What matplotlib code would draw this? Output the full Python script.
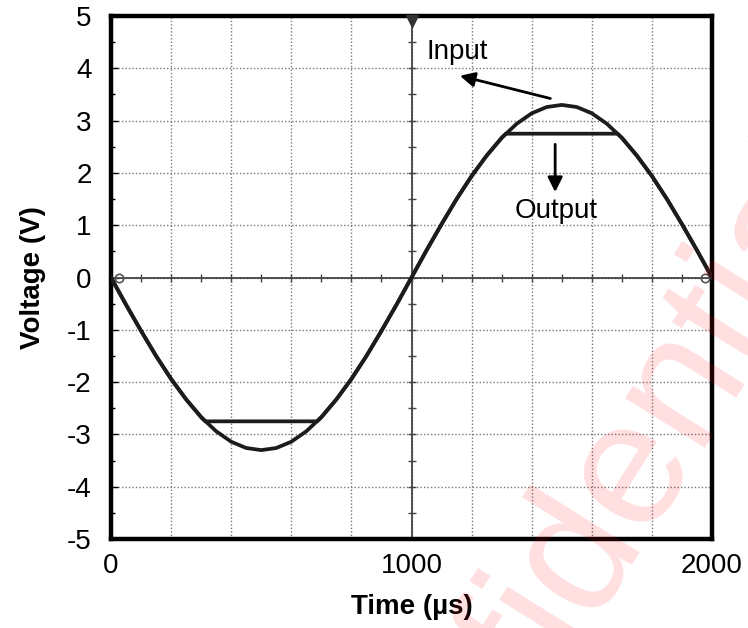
import matplotlib
matplotlib.use("Agg")
import matplotlib.pyplot as plt
import numpy as np

plt.rcParams['font.family'] = ['Liberation Sans', 'DejaVu Sans']

# input sine (time in us, volts)
t_in = [0, 50, 100, 150, 200, 250, 300, 350, 400, 450, 500, 550, 600, 650, 700,
        750, 800, 850, 900, 950, 1000, 1050, 1100, 1150, 1200, 1250, 1300, 1350,
        1400, 1450, 1500, 1550, 1600, 1650, 1700, 1750, 1800, 1850, 1900, 1950, 2000]
v_in = [0, -0.52, -1.02, -1.50, -1.94, -2.33, -2.67, -2.94, -3.14, -3.26, -3.30,
        -3.26, -3.14, -2.94, -2.67, -2.33, -1.94, -1.50, -1.02, -0.52, 0,
        0.52, 1.02, 1.50, 1.94, 2.33, 2.67, 2.94, 3.14, 3.26, 3.30,
        3.26, 3.14, 2.94, 2.67, 2.33, 1.94, 1.50, 1.02, 0.52, 0]

# clipped output trace
t_out = [0, 50, 100, 150, 200, 250, 300, 314, 686, 700, 750, 800, 850, 900, 950,
         1000, 1050, 1100, 1150, 1200, 1250, 1300, 1314, 1686, 1700, 1750, 1800,
         1850, 1900, 1950, 2000]
v_out = [0, -0.52, -1.02, -1.50, -1.94, -2.33, -2.67, -2.75, -2.75, -2.67, -2.33,
         -1.94, -1.50, -1.02, -0.52, 0, 0.52, 1.02, 1.50, 1.94, 2.33, 2.67,
         2.75, 2.75, 2.67, 2.33, 1.94, 1.50, 1.02, 0.52, 0]

x_labels = ['0', '1000', '2000']
y_ticks = [-5, -4, -3, -2, -1, 0, 1, 2, 3, 4, 5]

fig = plt.figure(figsize=(7.48, 6.28), dpi=100)
ax = fig.add_axes([0.1484, 0.1417, 0.8035, 0.8328])

ax.set_xlim(0, 2000)
ax.set_ylim(-5, 5)

# grid every 200 us and 1 V
ax.set_xticks(np.arange(0, 2001, 200))
ax.set_xticklabels([x_labels[int(v) // 1000] if v % 1000 == 0 else '' for v in np.arange(0, 2001, 200)])
ax.set_yticks(y_ticks)
ax.set_yticklabels([str(v) for v in y_ticks])
ax.set_yticks(np.arange(-4.5, 5, 1.0), minor=True)
ax.grid(True, which='major', color='#777777', linestyle=(0, (1, 1.5)), linewidth=1.0)
ax.tick_params(axis='x', length=0, labelsize=20, pad=10)
ax.tick_params(axis='y', which='major', direction='in', length=5, width=1, labelsize=20, pad=14)
ax.tick_params(axis='y', which='minor', direction='in', length=3, width=1)

for s in ax.spines.values():
    s.set_linewidth(3.2)

# scope centre axes with division marks
ax.axhline(0, color='#444444', lw=1.3, zorder=2)
ax.axvline(1000, color='#444444', lw=1.3, zorder=2)
ax.plot(np.arange(100, 2000, 100), np.zeros(19), ls='none', marker='|', ms=6, color='#444444', zorder=2)
ax.plot(np.full(19, 1000), np.arange(-4.5, 5, 0.5), ls='none', marker='_', ms=6, color='#444444', zorder=2)
ax.plot([1000], [4.9], marker='v', ms=8, color='#333333', zorder=3, clip_on=False)
ax.plot([25, 1975], [0, 0], ls='none', marker='o', ms=6, mfc='none', mec='#555555', mew=1.2, zorder=3)

ax.plot(t_in, v_in, color='#1c1c1c', lw=2.7, zorder=4)
ax.plot(t_out, v_out, color='#1c1c1c', lw=2.7, zorder=4)

ax.annotate('', xy=(1152, 3.87), xytext=(1471, 3.41),
            arrowprops=dict(arrowstyle='-|>', lw=2, color='k', mutation_scale=22))
ax.annotate('', xy=(1478, 1.58), xytext=(1478, 2.60),
            arrowprops=dict(arrowstyle='-|>', lw=2, color='k', mutation_scale=22))
ax.text(1152, 4.32, 'Input', fontsize=20, ha='center', va='center')
ax.text(1481, 1.28, 'Output', fontsize=20, ha='center', va='center')

ax.set_xlabel('Time (µs)', fontsize=20, fontweight='bold', labelpad=11)
ax.set_ylabel('Voltage (V)', fontsize=20, fontweight='bold', labelpad=15)

fig.text(0.776, 0.128, 'Confidential', rotation=58, color='red', alpha=0.13,
         fontsize=128, ha='center', va='center', zorder=10)

fig.savefig('out.png', dpi=100)
